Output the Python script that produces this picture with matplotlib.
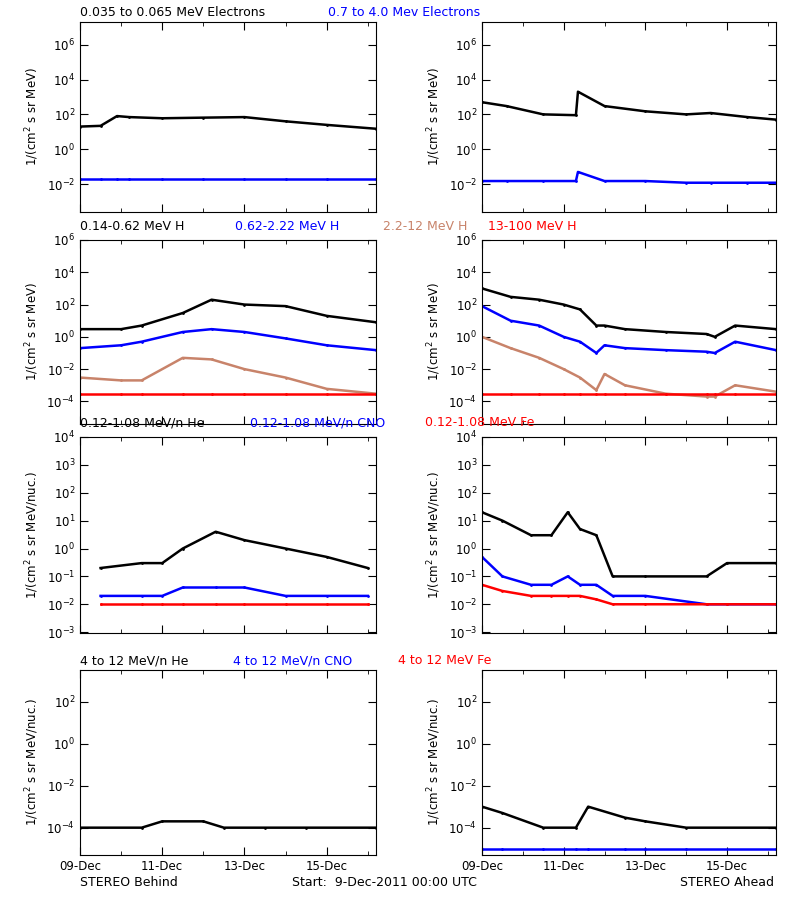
import matplotlib
matplotlib.use("Agg")
import matplotlib.pyplot as plt
import numpy as np
from matplotlib.ticker import FixedLocator, FuncFormatter

plt.rcParams['font.family'] = ['DejaVu Sans']
plt.rcParams['font.size'] = 8.5

# time in days since 9-Dec-2011 00:00
T0, T1 = 0.0, 7.2

# Row 1: electrons
t_e_l = [0, 0.5, 0.9, 1.2, 2.0, 3.0, 4.0, 5.0, 6.0, 7.2]
e_low_l = [20, 22, 80, 70, 60, 65, 70, 40, 25, 15]
e_hi_l = [0.02]*10
t_e_r = [0, 0.6, 1.5, 2.3, 2.35, 3.0, 4.0, 5.0, 5.6, 6.5, 7.2]
e_low_r = [500, 300, 100, 90, 2000, 300, 150, 100, 120, 70, 50]
e_hi_r = [0.015, 0.015, 0.015, 0.015, 0.05, 0.015, 0.015, 0.012, 0.012, 0.012, 0.012]

# Row 2: protons
t_h_l = [0, 1.0, 1.5, 2.5, 3.2, 4.0, 5.0, 6.0, 7.2]
h1_l = [3, 3, 5, 30, 200, 100, 80, 20, 8]
h2_l = [0.2, 0.3, 0.5, 2, 3, 2, 0.8, 0.3, 0.15]
h3_l = [3e-3, 2e-3, 2e-3, 5e-2, 4e-2, 1e-2, 3e-3, 6e-4, 3e-4]
h4_l = [3e-4]*9
t_h_r = [0, 0.7, 1.4, 2.0, 2.4, 2.8, 3.0, 3.5, 4.5, 5.5, 5.7, 6.2, 7.2]
h1_r = [1000, 300, 200, 100, 50, 5, 5, 3, 2, 1.5, 1, 5, 3]
h2_r = [80, 10, 5, 1, 0.5, 0.1, 0.3, 0.2, 0.15, 0.12, 0.1, 0.5, 0.15]
h3_r = [1, 0.2, 0.05, 0.01, 3e-3, 5e-4, 5e-3, 1e-3, 3e-4, 2e-4, 2e-4, 1e-3, 4e-4]
h4_r = [3e-4]*13

# Row 3: 0.12-1.08 MeV/n
t_m_l = [0.5, 1.5, 2.0, 2.5, 3.3, 4.0, 5.0, 6.0, 7.0]
he_m_l = [0.2, 0.3, 0.3, 1, 4, 2, 1, 0.5, 0.2]
cno_m_l = [0.02, 0.02, 0.02, 0.04, 0.04, 0.04, 0.02, 0.02, 0.02]
fe_m_l = [0.01]*9
t_m_r = [0, 0.5, 1.2, 1.7, 2.1, 2.4, 2.8, 3.2, 4.0, 5.5, 6.0, 7.2]
he_m_r = [20, 10, 3, 3, 20, 5, 3, 0.1, 0.1, 0.1, 0.3, 0.3]
cno_m_r = [0.5, 0.1, 0.05, 0.05, 0.1, 0.05, 0.05, 0.02, 0.02, 0.01, 0.01, 0.01]
fe_m_r = [0.05, 0.03, 0.02, 0.02, 0.02, 0.02, 0.015, 0.01, 0.01, 0.01, 0.01, 0.01]

# Row 4: 4-12 MeV/n
t_hh_l = [0, 1.5, 2.0, 3.0, 3.5, 4.5, 5.5, 7.2]
he_h_l = [1e-4, 1e-4, 2e-4, 2e-4, 1e-4, 1e-4, 1e-4, 1e-4]
t_hh_r = [0, 0.5, 1.5, 2.3, 2.6, 3.5, 4.0, 5.0, 7.2]
he_h_r = [1e-3, 5e-4, 1e-4, 1e-4, 1e-3, 3e-4, 2e-4, 1e-4, 1e-4]
cno_h_r = [1e-5]*9

xtick_pos = [0, 2, 4, 6]
xtick_lab = ['09-Dec', '11-Dec', '13-Dec', '15-Dec']

W, H = 800, 900
fig = plt.figure(figsize=(8, 9), dpi=100)

def ax_at(x0, y0, x1, y1):
    return fig.add_axes([x0/W, 1-y1/H, (x1-x0)/W, (y1-y0)/H])

def fmt(v, p):
    e = int(round(np.log10(v)))
    return r'$10^{%d}$' % e

rows = [
    (22, 212, (10**-3.6, 10**7.3), [10.0**k for k in range(-2, 7, 2)], '1/(cm$^2$ s sr MeV)', 13),
    (240, 424, (10**-5.4, 1e6), [10.0**k for k in range(-4, 7, 2)], '1/(cm$^2$ s sr MeV)', 226),
    (437, 633, (1e-3 * 10**-0.03, 1e4), [10.0**k for k in range(-3, 5)], '1/(cm$^2$ s sr MeV/nuc.)', 423),
    (670, 855, (10**-5.3, 10**3.5), [10.0**k for k in range(-4, 3, 2)], '1/(cm$^2$ s sr MeV/nuc.)', 661),
]
cols = [(80, 376), (482, 776)]

series = [
    [[(t_e_l, e_low_l, 'black'), (t_e_l, e_hi_l, 'blue')],
     [(t_e_r, e_low_r, 'black'), (t_e_r, e_hi_r, 'blue')]],
    [[(t_h_l, h1_l, 'black'), (t_h_l, h2_l, 'blue'), (t_h_l, h3_l, '#c8836a'), (t_h_l, h4_l, 'red')],
     [(t_h_r, h1_r, 'black'), (t_h_r, h2_r, 'blue'), (t_h_r, h3_r, '#c8836a'), (t_h_r, h4_r, 'red')]],
    [[(t_m_l, he_m_l, 'black'), (t_m_l, cno_m_l, 'blue'), (t_m_l, fe_m_l, 'red')],
     [(t_m_r, he_m_r, 'black'), (t_m_r, cno_m_r, 'blue'), (t_m_r, fe_m_r, 'red')]],
    [[(t_hh_l, he_h_l, 'black')],
     [(t_hh_r, he_h_r, 'black'), (t_hh_r, cno_h_r, 'blue')]],
]

titles = [
    [('0.035 to 0.065 MeV Electrons', 'black', 80), ('0.7 to 4.0 Mev Electrons', 'blue', 328)],
    [('0.14-0.62 MeV H', 'black', 80), ('0.62-2.22 MeV H', 'blue', 235), ('2.2-12 MeV H', '#c8836a', 383), ('13-100 MeV H', 'red', 488)],
    [('0.12-1.08 MeV/n He', 'black', 80), ('0.12-1.08 MeV/n CNO', 'blue', 250), ('0.12-1.08 MeV Fe', 'red', 425)],
    [('4 to 12 MeV/n He', 'black', 80), ('4 to 12 MeV/n CNO', 'blue', 233), ('4 to 12 MeV Fe', 'red', 398)],
]

for r, (y0, y1, ylim, yt, ylab, ty) in enumerate(rows):
    for c, (x0, x1) in enumerate(cols):
        ax = ax_at(x0, y0, x1, y1)
        for t, v, col in series[r][c]:
            ax.plot(t, v, color=col, lw=1.8, marker='.', ms=2)
        ax.set_yscale('log')
        ax.set_ylim(*ylim)
        ax.set_xlim(T0, T1)
        ax.yaxis.set_major_locator(FixedLocator(yt))
        ax.yaxis.set_major_formatter(FuncFormatter(fmt))
        ax.yaxis.set_minor_locator(FixedLocator([]))
        ax.set_xticks(xtick_pos)
        ax.set_xticks(np.arange(0, 7.5, 1), minor=True)
        ax.set_xticklabels(xtick_lab if r == 3 else [])
        ax.tick_params(direction='in', top=True, right=True, which='both', length=6)
        ax.tick_params(which='minor', length=3)
        ax.set_ylabel(ylab, fontsize=8.5)
        for s in ax.spines.values():
            s.set_linewidth(0.8)
    for txt, col, px in titles[r]:
        fig.text(px/W, 1-ty/H, txt, color=col, fontsize=9, va='center')

fig.text(80/W, 1-883/H, 'STEREO Behind', fontsize=9, va='center')
fig.text(292/W, 1-883/H, 'Start:  9-Dec-2011 00:00 UTC', fontsize=9, va='center')
fig.text(680/W, 1-883/H, 'STEREO Ahead', fontsize=9, va='center')

fig.savefig('out.png', dpi=100)
